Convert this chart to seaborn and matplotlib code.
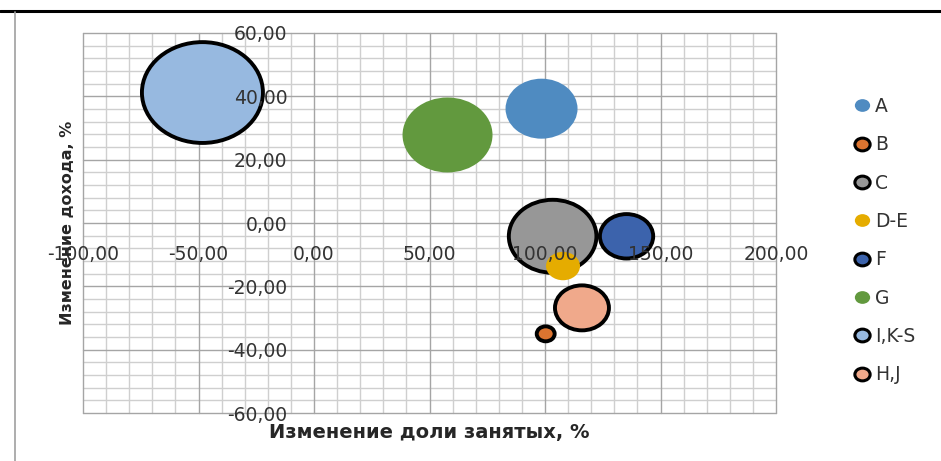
import numpy as np
import pandas as pd
import seaborn as sns
import matplotlib.pyplot as plt
from matplotlib.path import Path
from matplotlib.transforms import Affine2D
from matplotlib.lines import Line2D

# bubble chart data
categories = ["A", "B", "C", "D-E", "F", "G", "I,K-S", "H,J"]
emp_change = [98.5, 100.3, 103.3, 107.8, 135.3, 57.8, -48.3, 116.0]      # Изменение доли занятых, %
income_change = [36.1, -35.0, -4.2, -13.6, -4.2, 27.8, 41.2, -26.8]     # Изменение дохода, %
bubble_size = [35.4, 2.2, 52.4, 7.9, 19.4, 55.3, 100.0, 19.9]
colors = ["#4F8BC1", "#DC7430", "#979797", "#E5AC00", "#3C63AC", "#62993E", "#97B9E0", "#F0A98B"]
outlined = ["B", "C", "F", "I,K-S", "H,J"]

x_ticks = [-100, -50, 0, 50, 100, 150, 200]
x_tick_labels = ["-100,00", "-50,00", "0,00", "50,00", "100,00", "150,00", "200,00"]
y_ticks = [-60, -40, -20, 0, 20, 40, 60]
y_tick_labels = ["-60,00", "-40,00", "-20,00", "0,00", "20,00", "40,00", "60,00"]

df = pd.DataFrame({"cat": categories, "x": emp_change, "y": income_change, "size": bubble_size})
palette = dict(zip(categories, colors))

sns.set_style("white")
plt.rcParams["font.family"] = ["DejaVu Sans"]

# the source image is stretched sideways, so the bubbles are ovals
oval = Affine2D().scale(1.2, 1.0).transform_path(Path.unit_circle())

fig = plt.figure(figsize=(9.41, 4.61), dpi=100)
ax = fig.add_axes([83 / 941, 48 / 461, 693 / 941, 380 / 461])

edge = ["black" if c in outlined else "none" for c in categories]
lw = [2.8 if c in outlined else 0 for c in categories]

sns.scatterplot(data=df, x="x", y="y", hue="cat", size="size", palette=palette,
                sizes=(0, 7590), size_norm=(0, 100), marker=oval,
                edgecolor=edge, linewidth=lw, alpha=1, legend=False, ax=ax, zorder=1)

ax.set_xlim(-100, 200)
ax.set_ylim(-60, 60)

# excel style grid: minor every 10 / 4, major every 50 / 20
for v in np.arange(-100, 201, 10):
    if v % 50:
        ax.axvline(v, color="#CFCFCF", lw=1, zorder=0.4, clip_on=False)
for v in np.arange(-60, 61, 4):
    if v % 20:
        ax.axhline(v, color="#CFCFCF", lw=1, zorder=0.4, clip_on=False)
for v in x_ticks:
    ax.axvline(v, color="#A5A5A5", lw=1, zorder=0.5, clip_on=False)
for v in y_ticks:
    ax.axhline(v, color="#A5A5A5", lw=1, zorder=0.5, clip_on=False)

# axes cross at zero
for s in ax.spines.values():
    s.set_visible(False)
ax.spines["left"].set_position(("data", 0))
ax.spines["bottom"].set_position(("data", 0))
ax.set_axisbelow(False)

ax.set_xticks(x_ticks, x_tick_labels)
ax.set_yticks(y_ticks, y_tick_labels)
ax.tick_params(length=0, labelsize=13.5, labelcolor="#333333")
ax.tick_params(axis="x", pad=16)
ax.tick_params(axis="y", pad=19)

ax.set_xlabel("Изменение доли занятых, %", fontsize=14, fontweight="bold")
ax.xaxis.set_label_coords(0.5, -0.025)
ax.set_ylabel("Изменение дохода, %", fontsize=11.5, fontweight="bold")
ax.yaxis.set_label_coords(-0.012, 0.5)

handles = [Line2D([], [], linestyle="", marker=oval, markersize=11,
                  markerfacecolor=palette[c], markeredgecolor=e,
                  markeredgewidth=2.2 if e != "none" else 0)
           for c, e in zip(categories, edge)]
fig.legend(handles, categories, loc="upper left", bbox_to_anchor=(852.6 / 941, 1 - 97 / 461),
           frameon=False, fontsize=13.5, labelcolor="#333333", handlelength=1.0,
           handletextpad=0.2, labelspacing=1.03, borderpad=0, borderaxespad=0)

# page border bits around the chart
fig.add_artist(Line2D([0, 1], [1 - 11 / 461] * 2, color="black", lw=2.2))
fig.add_artist(Line2D([15.5 / 941] * 2, [0, 1 - 12 / 461], color="#A0A0A0", lw=1.2))

fig.savefig("out.png", dpi=100)
